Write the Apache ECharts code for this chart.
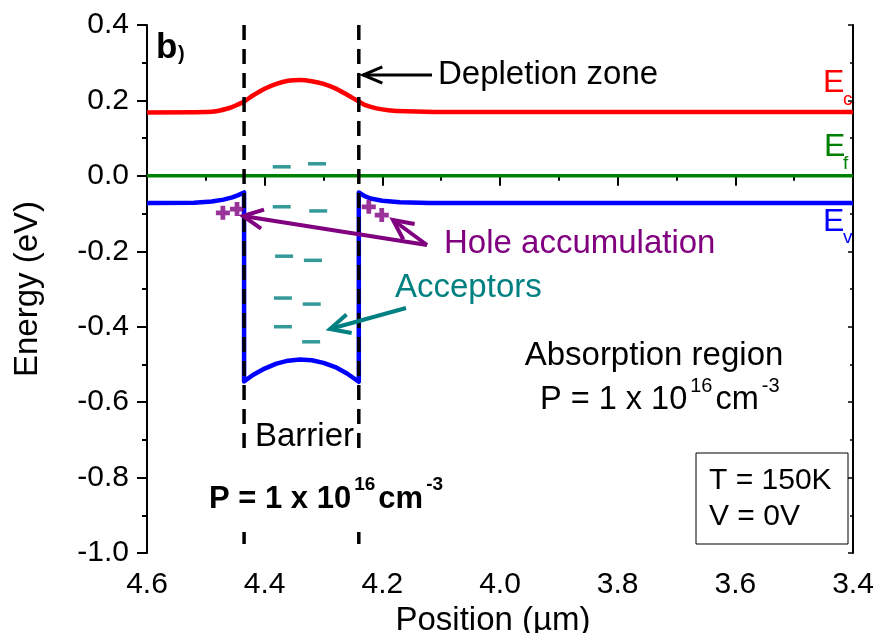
<!DOCTYPE html>
<html>
<head>
<meta charset="utf-8">
<script src="https://cdn.jsdelivr.net/npm/echarts@6/dist/echarts.min.js"></script>
<style>
  html, body { margin: 0; padding: 0; background: #fff; }
  #chart { width: 879px; height: 633px; }
</style>
</head>
<body>
<div id="chart"></div>
<script>
// band edges, position in um (x) and energy in eV (y)
const ecX = [4.60, 4.50, 4.48, 4.46, 4.45, 4.435, 4.42, 4.40, 4.38, 4.36, 4.34, 4.32, 4.30, 4.28, 4.26, 4.24, 4.23, 4.21, 4.19, 4.16, 4.10, 3.40];
const ecY = [0.168, 0.169, 0.172, 0.180, 0.186, 0.197, 0.213, 0.231, 0.244, 0.252, 0.254, 0.251, 0.244, 0.232, 0.215, 0.197, 0.188, 0.179, 0.174, 0.171, 0.169, 0.169];

const efX = [4.60, 3.40];
const efY = [0.0, 0.0];

const evX = [4.60, 4.52, 4.49, 4.47, 4.455, 4.445, 4.435, 4.435, 4.42, 4.40, 4.38, 4.36, 4.34, 4.32, 4.30, 4.28, 4.26, 4.24, 4.24, 4.23, 4.22, 4.20, 4.17, 4.12, 3.40];
const evY = [-0.072, -0.071, -0.068, -0.063, -0.057, -0.051, -0.044, -0.545, -0.528, -0.511, -0.498, -0.490, -0.487, -0.489, -0.496, -0.507, -0.524, -0.546, -0.044, -0.054, -0.060, -0.066, -0.070, -0.072, -0.072];

// barrier interfaces (dashed lines)
const edgeX = [4.435, 4.24];

// acceptor dashes and hole "+" markers
const acceptorX = [4.371, 4.311, 4.371, 4.309, 4.367, 4.318, 4.369, 4.320, 4.369, 4.321];
const acceptorY = [0.024, 0.032, -0.082, -0.093, -0.213, -0.224, -0.324, -0.340, -0.400, -0.440];
const holeX = [4.471, 4.447, 4.223, 4.201];
const holeY = [-0.098, -0.088, -0.082, -0.104];

const xMin = 3.4, xMax = 4.6;
const yMin = -1.0, yMax = 0.4;

const FONT = "Liberation Sans";
const zip = (xs, ys) => xs.map((x, i) => [x, ys[i]]);

const measureCtx = document.createElement("canvas").getContext("2d");
const fontStr = (size, weight) => (weight || "normal") + " " + size + "px '" + FONT + "'";

function arrow(x1, y1, x2, y2, color, lw, len, spread) {
  const a = Math.atan2(y1 - y2, x1 - x2);
  const w1 = [x2 + len * Math.cos(a + spread), y2 + len * Math.sin(a + spread)];
  const w2 = [x2 + len * Math.cos(a - spread), y2 + len * Math.sin(a - spread)];
  return [
    { type: "line", shape: { x1, y1, x2, y2 }, style: { stroke: color, lineWidth: lw }, z: 100 },
    { type: "polyline", shape: { points: [w1, [x2, y2], w2] }, style: { stroke: color, lineWidth: lw, fill: null }, z: 100 }
  ];
}

function txt(x, y, s, size, color, weight, align) {
  return {
    type: "text", x, y, z: 100,
    style: { text: s, fill: color || "#000", font: fontStr(size, weight), textAlign: align || "left", textVerticalAlign: "middle" }
  };
}

// "P = 1 x 10^16 cm^-3" laid out piece by piece
function density(x, y, size, supSize, weight, gap) {
  const parts = [["P = 1 x 10", size, 0], ["16", supSize, -14], ["cm", size, 0], ["-3", supSize, -14]];
  const out = [];
  let cx = x;
  parts.forEach(([s, sz, dy]) => {
    out.push(txt(cx, y + dy, s, sz, "#000", weight));
    measureCtx.font = fontStr(sz, weight);
    cx += measureCtx.measureText(s).width + gap;
  });
  return out;
}

const chart = echarts.init(document.getElementById("chart"));

const axisCommon = {
  type: "value",
  axisLine: { show: true, lineStyle: { color: "#000", width: 2 } },
  splitLine: { show: false }
};

const option = {
  animation: false,
  backgroundColor: "#fff",
  grid: { left: 147, right: 26, top: 25, bottom: 80, outerBoundsMode: "none", containLabel: false },
  xAxis: [
    Object.assign({}, axisCommon, {
      min: xMin, max: xMax, interval: 0.2, inverse: true, position: "bottom",
      name: "Position (\u00b5m)", nameLocation: "middle", nameGap: 31,
      nameTextStyle: { fontFamily: FONT, fontSize: 33, color: "#000", padding: [0, 14, 0, 0] },
      axisTick: { length: 10, lineStyle: { width: 2, color: "#000" } },
      minorTick: { show: true, splitNumber: 2, length: 5, lineStyle: { width: 2, color: "#000" } },
      axisLabel: { fontFamily: FONT, fontSize: 30, color: "#000", margin: 17, formatter: v => v.toFixed(1) }
    }),
    Object.assign({}, axisCommon, {
      min: xMin, max: xMax, interval: 0.2, inverse: true, position: "top",
      axisTick: { inside: true, length: 5, lineStyle: { width: 1.5, color: "#000" } },
      minorTick: { show: true, splitNumber: 2, length: 3, lineStyle: { width: 1.5, color: "#000" } },
      axisLabel: { show: false }
    })
  ],
  yAxis: [
    Object.assign({}, axisCommon, {
      min: yMin, max: yMax, interval: 0.2, position: "left",
      name: "Energy (eV)", nameLocation: "middle", nameGap: 103,
      nameTextStyle: { fontFamily: FONT, fontSize: 33, color: "#000" },
      axisTick: { length: 10, lineStyle: { width: 2, color: "#000" } },
      minorTick: { show: true, splitNumber: 2, length: 5, lineStyle: { width: 2, color: "#000" } },
      axisLabel: { fontFamily: FONT, fontSize: 30, color: "#000", margin: 18, formatter: v => v.toFixed(1) }
    }),
    Object.assign({}, axisCommon, {
      min: yMin, max: yMax, interval: 0.2, position: "right",
      axisTick: { inside: true, length: 5, lineStyle: { width: 1.5, color: "#000" } },
      minorTick: { show: true, splitNumber: 2, length: 3, lineStyle: { width: 1.5, color: "#000" } },
      axisLabel: { show: false }
    })
  ],
  series: [
    {
      name: "Ec", type: "line", data: zip(ecX, ecY), showSymbol: false, smooth: 0.3,
      lineStyle: { color: "#ff0000", width: 4.5 }, z: 3
    },
    {
      name: "Ef", type: "line", data: zip(efX, efY), showSymbol: false,
      lineStyle: { color: "#008000", width: 3.5 }, z: 3
    },
    {
      name: "Ev", type: "line", data: zip(evX, evY), showSymbol: false,
      lineStyle: { color: "#0000ff", width: 4.5, join: "round" }, z: 3
    },
    ...edgeX.map(x => ({
      type: "line", data: [[x, yMax], [x, yMin]], showSymbol: false,
      lineStyle: { color: "#000", width: 3.5, type: [15, 9] }, z: 5
    })),
    {
      name: "Acceptors", type: "scatter", data: zip(acceptorX, acceptorY),
      symbol: "rect", symbolSize: [18, 3.5], itemStyle: { color: "#008080" }, z: 4
    },
    {
      name: "Holes", type: "scatter", data: zip(holeX, holeY),
      symbol: "path://M3.3,0H6.7V3.3H10V6.7H6.7V10H3.3V6.7H0V3.3H3.3Z", symbolSize: 14,
      itemStyle: { color: "#800080" }, z: 4
    }
  ],
  graphic: [
    txt(156, 48, "b", 35, "#000", "bold"),
    txt(178, 54, ")", 20, "#000", "bold"),

    txt(438, 75, "Depletion zone", 33),
    ...arrow(432, 75, 363, 75, "#000", 3, 21, 0.4),

    txt(823, 83, "E", 32, "#ff0000"),
    txt(843, 100, "c", 19, "#ff0000"),
    txt(824, 147, "E", 32, "#008000"),
    txt(843, 164, "f", 19, "#008000"),
    txt(823, 222, "E", 32, "#0000ff"),
    txt(843, 238, "v", 19, "#0000ff"),

    txt(444, 244, "Hole accumulation", 33, "#800080"),
    ...arrow(427, 245, 243, 216, "#800080", 4, 22, 0.45),
    ...arrow(427, 245, 393, 220, "#800080", 4, 22, 0.45),

    txt(395, 288, "Acceptors", 33, "#008080"),
    ...arrow(406, 308, 330, 329, "#008080", 4, 22, 0.45),

    txt(255, 437, "Barrier", 33),

    // white panel behind the bold label breaks the dashed lines
    {
      type: "rect", shape: { x: 204, y: 452, width: 244, height: 80 }, z: 99,
      style: { fill: "#fff" }
    },
    ...density(209, 499, 31, 19, "bold", 3),

    txt(654, 356, "Absorption region", 33, "#000", "normal", "center"),
    ...density(540, 400, 32.5, 20, "normal", 3),

    {
      type: "rect", shape: { x: 696, y: 453, width: 152, height: 91 }, z: 100,
      style: { fill: "#fff", stroke: "#000", lineWidth: 1 }
    },
    txt(709, 481, "T = 150K", 30),
    txt(709, 517, "V = 0V", 30)
  ]
};

chart.setOption(option);
</script>
</body>
</html>
